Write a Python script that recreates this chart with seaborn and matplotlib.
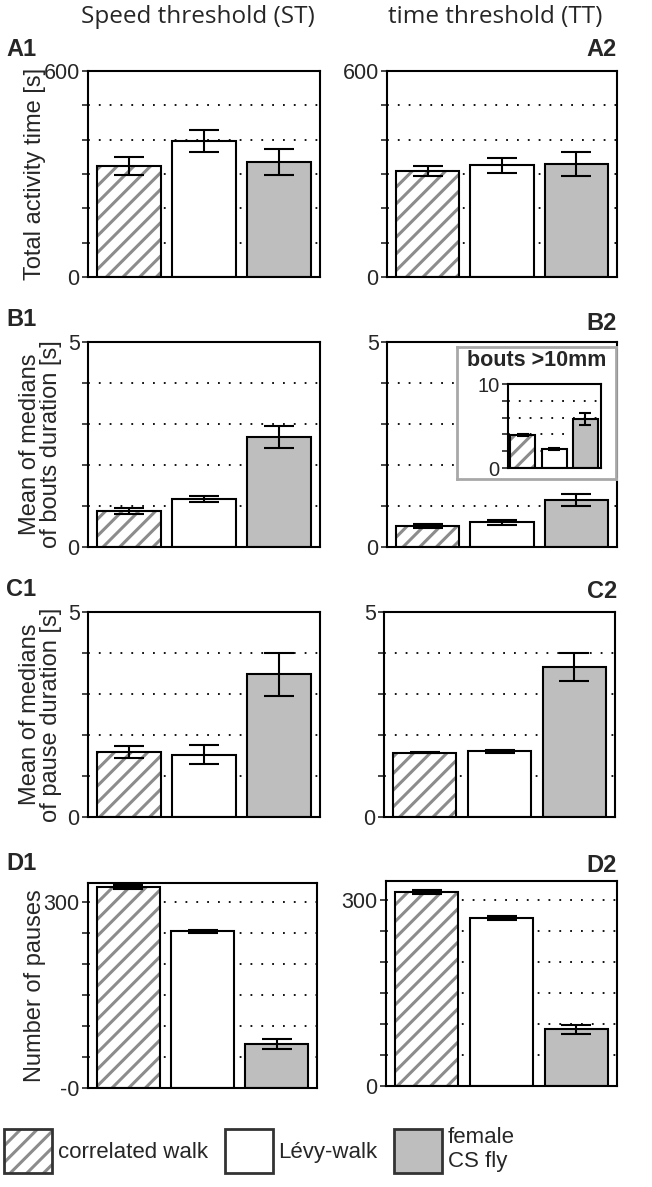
import numpy as np
import pandas as pd
import seaborn as sns
import matplotlib.pyplot as plt
from matplotlib.patches import Patch, Rectangle
from matplotlib.legend_handler import HandlerTuple

# Data (mean and error bar half-length)
groups = ['correlated walk', 'Lévy-walk', 'female CS fly']
legend_labels = ['correlated walk', 'Lévy-walk', 'female\nCS fly']

a1_mean = [323, 397, 335]
a1_err = [26, 32, 37]
a2_mean = [309, 326, 329]
a2_err = [15, 22, 35]

b1_mean = [0.87, 1.17, 2.68]
b1_err = [0.07, 0.08, 0.27]
b2_mean = [0.51, 0.60, 1.14]
b2_err = [0.05, 0.07, 0.15]
inset_mean = [3.9, 2.26, 5.83]
inset_err = [0.1, 0.1, 0.7]

c1_mean = [1.585, 1.52, 3.48]
c1_err = [0.15, 0.23, 0.52]
c2_mean = [1.57, 1.60, 3.65]
c2_err = [0.02, 0.03, 0.34]

d1_mean = [324, 252, 71]
d1_err = [3, 2, 7.5]
d2_mean = [312, 270, 91]
d2_err = [3, 3, 7.5]

colors = ['white', 'white', '#bebebe']
hatch_gray = '#8c8c8c'

sns.set_theme(style='ticks')
plt.rcParams['font.family'] = ['Liberation Sans', 'DejaVu Sans']
plt.rcParams['hatch.linewidth'] = 2.2
plt.rcParams['axes.linewidth'] = 1.5


def draw_panel(ax, means, errs, ymax, step, ticklabels, fs=15.5, capsize=11, width=0.85):
    df = pd.DataFrame({'group': groups, 'value': means})
    sns.barplot(data=df, x='group', y='value', hue='group', palette=colors,
                order=groups, hue_order=groups, width=width, errorbar=None,
                edgecolor='black', linewidth=1.5, legend=False, ax=ax, zorder=2)
    # hatched first bar: gray stripes and black outline
    p = ax.patches[0]
    p.set_hatch('//')
    p.set_edgecolor(hatch_gray)
    p.set_linewidth(0)
    ax.add_patch(Rectangle(p.get_xy(), p.get_width(), p.get_height(), fill=False,
                           edgecolor='black', lw=1.5, zorder=3))
    xs = [b.get_x() + b.get_width() / 2 for b in ax.patches[:3]]
    ax.errorbar(xs, means, yerr=errs, fmt='none', ecolor='black', elinewidth=1.5,
                capsize=capsize, capthick=1.5, zorder=5)
    ticks = np.arange(0, ymax + 1e-9, step)
    ax.set_ylim(0, ymax)
    ax.set_yticks(ticks)
    labs = [''] * len(ticks)
    labs[0] = ticklabels[0]
    labs[-1] = ticklabels[1]
    ax.set_yticklabels(labs, fontsize=fs)
    ax.set_xticks([])
    ax.set_xlabel('')
    ax.set_ylabel('')
    ax.set_xlim(-0.544, 2.544)
    ax.yaxis.grid(True, linestyle=(0, (1, 5)), color='black', lw=1.3)
    ax.set_axisbelow(True)
    ax.tick_params(axis='y', length=4, width=1.2, direction='out', pad=2)
    for s in ax.spines.values():
        s.set_visible(True)
        s.set_linewidth(1.5)
        s.set_color('black')


fig = plt.figure(figsize=(6.52, 11.87), dpi=100)
W, H = 652, 1187


def px_axes(x0, y0, x1, y1):
    return fig.add_axes([x0 / W, 1 - y1 / H, (x1 - x0) / W, (y1 - y0) / H])


axA1 = px_axes(88, 71, 320, 277)
axA2 = px_axes(387, 71, 617, 277)
axB1 = px_axes(88, 342, 320, 547)
axB2 = px_axes(387, 342, 617, 547)
axC1 = px_axes(88, 612, 320, 817)
axC2 = px_axes(384, 612, 615, 817)
axD1 = px_axes(88, 883, 317, 1088)
axD2 = px_axes(386, 881, 617, 1086)

draw_panel(axA1, a1_mean, a1_err, 600, 100, ['0', '600'])
draw_panel(axA2, a2_mean, a2_err, 600, 100, ['0', '600'])
draw_panel(axB1, b1_mean, b1_err, 5, 1, ['0', '5'])
draw_panel(axB2, b2_mean, b2_err, 5, 1, ['0', '5'])
draw_panel(axC1, c1_mean, c1_err, 5, 1, ['0', '5'])
draw_panel(axC2, c2_mean, c2_err, 5, 1, ['0', '5'])
draw_panel(axD1, d1_mean, d1_err, 300, 50, ['-0', '300'])
draw_panel(axD2, d2_mean, d2_err, 300, 50, ['0', '300'])
# D panels run a little above the 300 tick
axD1.set_ylim(0, 330)
axD2.set_ylim(0, 330)

# y labels
ylab_fs = 17
axA1.set_ylabel('Total activity time [s]', fontsize=ylab_fs)
axA1.yaxis.set_label_coords(-0.182, 0.5)
axB1.set_ylabel('Mean of medians\nof bouts duration [s]', fontsize=ylab_fs, linespacing=0.92)
axB1.yaxis.set_label_coords(-0.112, 0.5)
axC1.set_ylabel('Mean of medians\nof pause duration [s]', fontsize=ylab_fs, linespacing=0.92)
axC1.yaxis.set_label_coords(-0.112, 0.5)
axD1.set_ylabel('Number of pauses', fontsize=ylab_fs)
axD1.yaxis.set_label_coords(-0.185, 0.5)

# inset in B2
frame = px_axes(457, 347, 616, 479)
frame.set_xticks([])
frame.set_yticks([])
frame.set_facecolor('white')
for s in frame.spines.values():
    s.set_color('#a8a8a8')
    s.set_linewidth(2)
frame.text(0.5, 0.895, 'bouts >10mm', transform=frame.transAxes, ha='center', va='center',
           fontsize=15.5, fontweight='bold')
axIn = px_axes(508, 384, 601, 468)
draw_panel(axIn, inset_mean, inset_err, 10, 2, ['0', '10'], fs=14.5, capsize=4, width=0.8)
axIn.set_xlim(-0.48, 2.5)

# column headers and panel labels
fig.text(198 / W, 1 - 17 / H, 'Speed threshold (ST)', ha='center', va='center',
         fontsize=17.5, family=['Open Sans', 'DejaVu Sans'])
fig.text(495 / W, 1 - 17 / H, 'time threshold (TT)', ha='center', va='center',
         fontsize=17.5, family=['Open Sans', 'DejaVu Sans'])
panel_fs = 17
for lab, x, y, ha in [('A1', 6, 49, 'left'), ('A2', 617, 50, 'right'),
                      ('B1', 6, 320, 'left'), ('B2', 617, 323, 'right'),
                      ('C1', 6, 589, 'left'), ('C2', 617, 591, 'right'),
                      ('D1', 6, 863, 'left'), ('D2', 617, 865, 'right')]:
    fig.text(x / W, 1 - y / H, lab, ha=ha, va='center', fontsize=panel_fs, fontweight='bold')

# legend
h1 = (Patch(facecolor='white', edgecolor=hatch_gray, hatch='//', lw=0),
      Patch(fill=False, edgecolor='#333333', lw=2))
h2 = Patch(facecolor='white', edgecolor='#333333', lw=2)
h3 = Patch(facecolor=colors[2], edgecolor='#333333', lw=2)
fig.legend([h1, h2, h3], legend_labels, handler_map={tuple: HandlerTuple(ndivide=1, pad=0)},
           loc='center left', bbox_to_anchor=(0.0, 1 - 1150 / H), ncol=3, frameon=False,
           fontsize=16, handlelength=2.16, handleheight=2.66, handletextpad=0.25,
           columnspacing=0.75, borderaxespad=0, borderpad=0.2)

fig.savefig('out.png', dpi=100)
